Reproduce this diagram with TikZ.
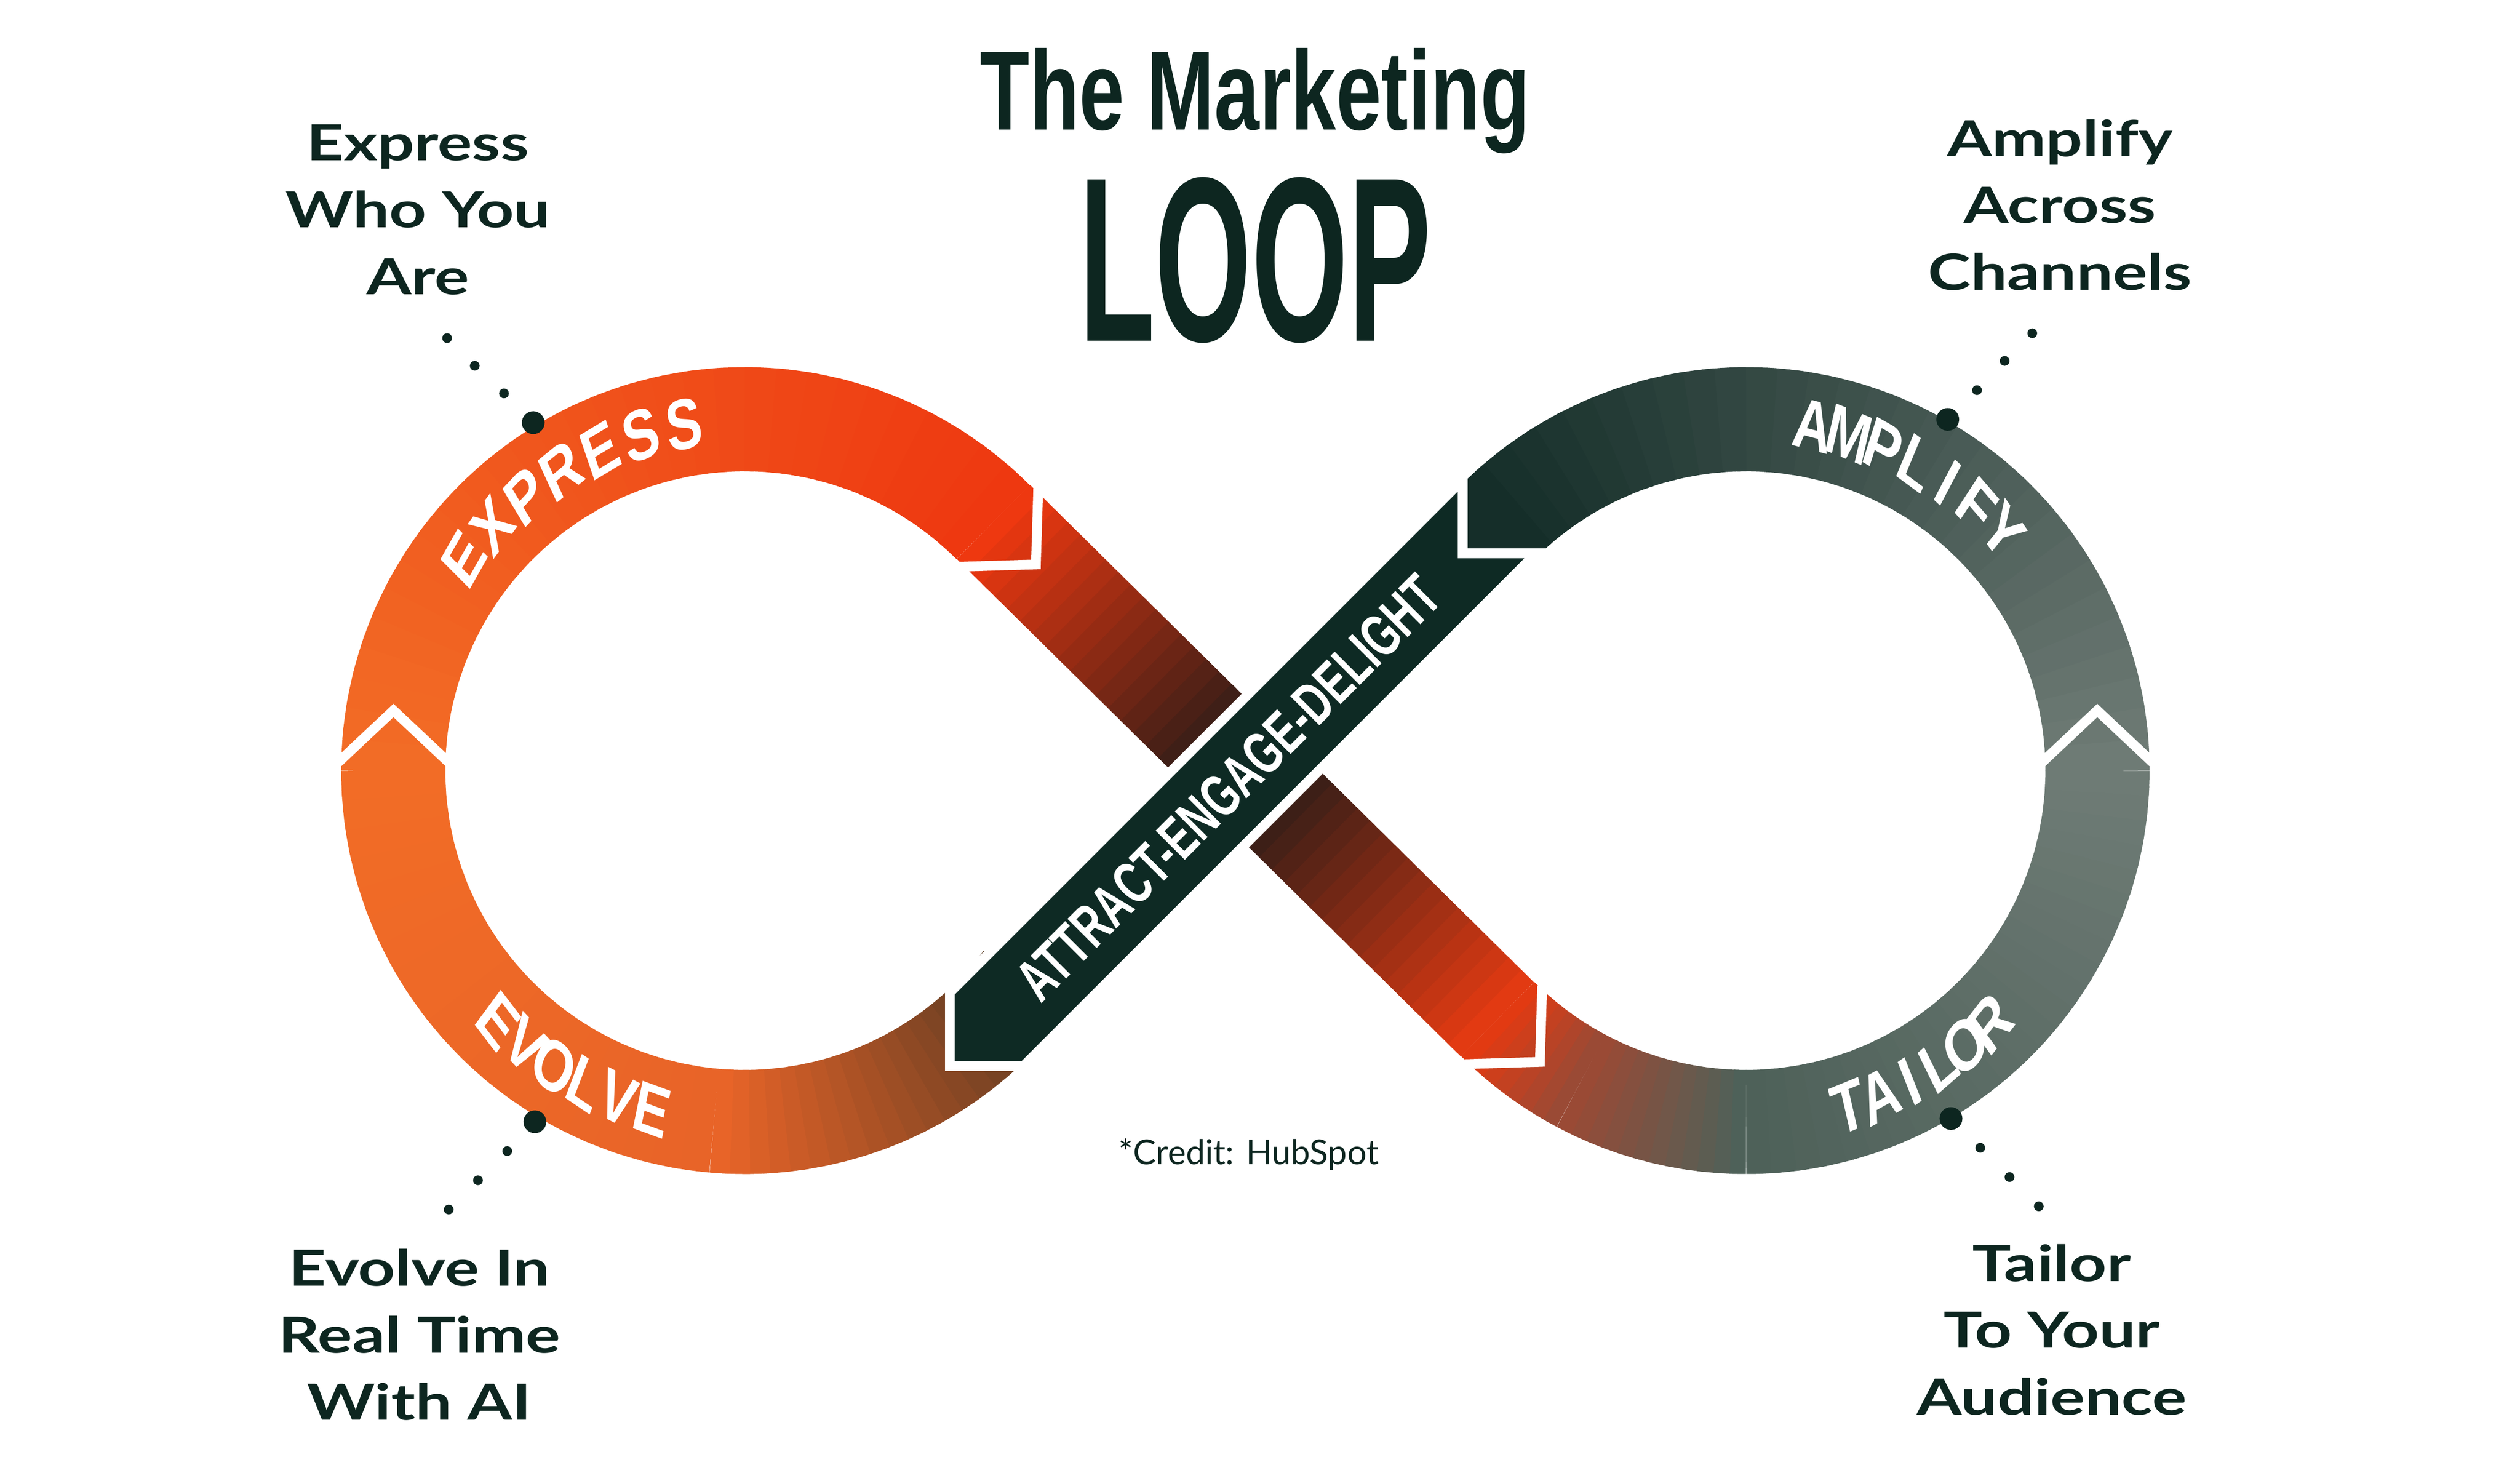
\documentclass[tikz,border=0pt]{standalone}
\usepackage{fontspec}
\setmainfont{Liberation Sans}
\newfontfamily\labfont{Lato}
\usetikzlibrary{calc}
\definecolor{ink}{HTML}{0D2620}
\definecolor{orng}{HTML}{F26C26}
\definecolor{redd}{HTML}{EE3810}
\definecolor{evdark}{HTML}{5A3A22}
\definecolor{evmid}{HTML}{E86428}
\definecolor{tred}{HTML}{E23A12}
\definecolor{tbrown}{HTML}{9A4A35}
\definecolor{gg}{HTML}{4E6159}
\definecolor{gry}{HTML}{6E7B75}
\definecolor{adark}{HTML}{152E29}
\definecolor{blk}{HTML}{1E1A18}
\definecolor{dband}{HTML}{0E2A24}
\newcommand\gradarc[7]{%
 \foreach \i in {1,...,#7}{
  \pgfmathsetmacro\aa{#3+(#4-#3)*(\i-1)/#7}
  \pgfmathsetmacro\ab{#3+(#4-#3)*min(\i+0.4,#7)/#7}
  \pgfmathsetmacro\pp{100*(\i-1)/(#7-1)}
  \draw[band,color=#6!\pp!#5] ([shift={(\aa:2.16cm)}]#1,#2) arc[start angle=\aa,end angle=\ab,radius=2.16cm];
 }}
\newcommand\gradline[7]{%
 \foreach \i in {1,...,#7}{
  \pgfmathsetmacro\ta{(\i-1)/#7}
  \pgfmathsetmacro\tb{min(\i+0.4,#7)/#7}
  \pgfmathsetmacro\pp{100*(\i-1)/(#7-1)}
  \draw[band,color=#6!\pp!#5] ($(#1,#2)!\ta!(#3,#4)$) -- ($(#1,#2)!\tb!(#3,#4)$);
 }}
\newcommand\chev[3]{\begin{scope}[shift={(#1,#2)},rotate=#3]\draw[chev] (5,34) -- (37,0) -- (5,-34);\end{scope}}
\begin{document}
\begin{tikzpicture}[x=0.01cm,y=0.01cm,
 band/.style={line width=0.64cm,line cap=butt},
 chev/.style={white,line width=0.06cm,line join=miter},
 blet/.style={text=white,font=\fontsize{12.5}{12.5}\selectfont\bfseries,xscale=.75,transform shape,inner sep=0},
 lab/.style={text=ink,font=\labfont\fontsize{8.7}{11.7}\selectfont\bfseries,align=center,xscale=1.3,transform shape},
 bigdot/.style={fill=ink,draw=none},
]
\useasboundingbox (0,0) rectangle (1550,896);
\fill[white] (0,0) rectangle (1550,896);
% left circle
\gradarc{458}{422}{180}{45}{orng}{redd}{30}
\gradarc{458}{422}{-37}{-95}{evdark}{evmid}{20}
\gradarc{458}{422}{-95}{-180}{evmid}{orng}{20}
% right circle
\gradarc{1074}{422}{225}{242}{tred}{tbrown}{8}
\gradarc{1074}{422}{242}{270}{tbrown}{gg}{12}
\gradarc{1074}{422}{270}{360}{gg}{gry}{25}
\gradarc{1074}{422}{0}{135}{gry}{adark}{30}
% red diagonal band
\gradline{611}{575}{766}{422}{redd}{blk}{20}
\gradline{766}{422}{921}{269}{blk}{tred}{20}
\chev{242}{422}{90}
\chev{1290}{422}{90}
\chev{611}{575}{-45}
\chev{921}{269}{-45}
% dark band
\begin{scope}[shift={(766,422)},rotate=45]
 \fill[adark] (219,32) -- (189,0) -- (219,-32) -- cycle;
 \filldraw[fill=dband,draw=white,line width=0.06cm,line join=miter]
   (221,32) -- (189,0) -- (221,-32) -- (-225,-32) -- (-257,0) -- (-225,32) -- cycle;
 \node[text=white,font=\fontsize{10.5}{10.5}\selectfont\bfseries,xscale=.68,transform shape,inner sep=0] (aed) at (-15,0) {ATTRACT-ENGAGE-DELIGHT};
\end{scope}
% band letters
\foreach \ch [count=\k] in {E,X,P,R,E,S,S}{\pgfmathsetmacro\an{143-(\k-1)*7.17}
 \node[blet,rotate=\an-90] (ex\k) at ([shift={(\an:2.16cm)}]458,422) {\ch};}
\foreach \ch [count=\k] in {A,M,P,L,I,F,Y}{\pgfmathsetmacro\an{79-(\k-1)*6}
 \node[blet,rotate=\an-90] (am\k) at ([shift={(\an:2.16cm)}]1074,422) {\ch};}
\foreach \ch [count=\k] in {E,V,O,L,V,E}{\pgfmathsetmacro\an{225.5+(\k-1)*5.84}
 \node[blet,rotate=\an+90] (ev\k) at ([shift={(\an:2.16cm)}]458,422) {\ch};}
\foreach \ch [count=\k] in {T,A,I,L,O,R}{\pgfmathsetmacro\an{287+(\k-1)*5.4}
 \node[blet,rotate=\an+90] (ta\k) at ([shift={(\an:2.16cm)}]1074,422) {\ch};}
% title
\node[text=ink,font=\fontsize{19.7}{20}\selectfont\bfseries,xscale=.72,transform shape] (t1) at (772,834) {The Marketing};
\node[text=ink,font=\fontsize{41}{41}\selectfont\bfseries,xscale=.53,transform shape] (t2) at (772,736) {LOOP};
% labels
\node[lab] (l1) at (257,767) {Express\\Who You\\Are};
\node[lab] (l2) at (1267,770) {Amplify\\Across\\Channels};
\node[lab] (l3) at (258,75) {Evolve In\\Real Time\\With AI};
\node[lab] (l4) at (1262,78) {Tailor\\To Your\\Audience};
\node[text=ink,font=\labfont\fontsize{6}{7}\selectfont] (cr) at (768,186) {*Credit: HubSpot};
% dots
\foreach \x/\y in {328/636,1198/638,329/206,1200/208} \fill[bigdot] (\x,\y) circle (7);
\foreach \x/\y in {275/688,292/671,310/654,1250/691,1233/674,1216/656,312/188,294/170,276/152,1218/190,1236/172,1254/154} \fill[bigdot] (\x,\y) circle (3);
\end{tikzpicture}
\end{document}
